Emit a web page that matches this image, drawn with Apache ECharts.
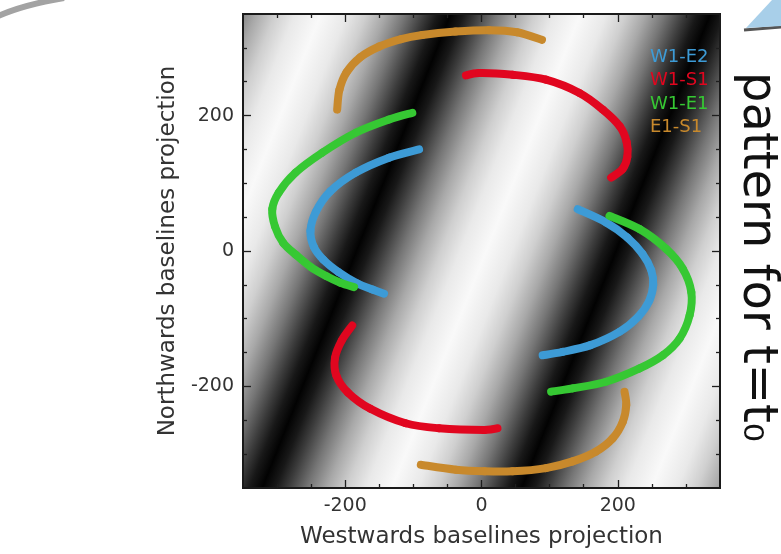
<!DOCTYPE html>
<html>
<head>
<meta charset="utf-8">
<script src="https://cdn.jsdelivr.net/npm/echarts@6/dist/echarts.min.js"></script>
<style>
  html, body { margin: 0; padding: 0; background: #ffffff; }
  #chart { width: 781px; height: 554px; }
</style>
</head>
<body>
<div id="chart"></div>
<script>
// Baselines shown in the legend
const baselines = ['W1-E2', 'W1-S1', 'W1-E1', 'E1-S1'];

// Projected baseline tracks [westwards, northwards]; each baseline traces two opposite arcs
const w1e2North = [[-91.6, 150], [-135.7, 137.8], [-184.7, 115.7], [-222, 88], [-243, 58], [-251, 30], [-246, 6], [-232, -13], [-210, -31], [-182, -48], [-160, -57], [-143, -63]];
const w1e2South = [[141.2, 61.8], [182.9, 42.2], [214, 20], [236, -4], [249, -28], [252, -50], [246, -74], [230, -97], [203, -119], [160, -139], [119, -149], [89.7, -154]];

const w1s1North = [[-22.9, 259.3], [-3.4, 262.8], [45.6, 260.3], [94.7, 253], [143.7, 233.4], [178, 208.8], [203, 184], [213, 161], [214, 139], [207, 121], [190.3, 108.4]];
const w1s1South = [[-189.7, -109.9], [-205, -132], [-215, -158], [-213, -184], [-196, -209], [-163, -233], [-111.2, -254.4], [-62.2, -261.8], [4, -264.3], [23.5, -261.8]];

const w1e1North = [[-101.5, 204], [-135.7, 194.1], [-184.7, 174.6], [-233.8, 145.1], [-272.9, 115.7], [-297.5, 86.3], [-307, 62], [-303, 36], [-291, 12], [-272, -6], [-250, -24], [-228, -37], [-207, -47], [-187, -53.4]];
const w1e1South = [[187.8, 51.9], [231.9, 32.4], [271.2, 2.9], [295.6, -26.5], [307.9, -60.7], [305.4, -95.1], [290.7, -129.4], [266.2, -154], [231.9, -173.5], [182.9, -193.1], [133.8, -202.9], [102.1, -207.8]];

const e1s1North = [[-211.8, 208.8], [-208.5, 238], [-198, 264], [-178, 286], [-150, 302], [-118, 313], [-87, 319], [-38, 324], [11, 326], [52, 323], [88.8, 311.8]];
const e1s1South = [[-89.1, -315.7], [-37.6, -323], [4, -325.4], [45.6, -325.4], [94.7, -320.6], [133.8, -310.7], [168.2, -296], [192.6, -276.5], [207.4, -252], [212.4, -227.5], [209.9, -207.8]];

// Axis ticks
const axisExtent = 350;
const labelTicks = [-200, 0, 200];
const minorTicks = [-300, -250, -150, -100, -50, 50, 100, 150, 250, 300];

// Fringe pattern behind the tracks: stripe period, tilt of the stripes, position of a dark fringe
const fringe = { period: 380, tilt: 0.40, darkAt: -184 };
// Grey level going from the centre of a dark fringe (0) to the centre of a bright one (1)
const grayRamp = [[0, 2], [0.1, 24], [0.2, 60], [0.35, 118], [0.5, 168], [0.65, 207], [0.8, 233], [1, 249]];

const lineColors = { 'W1-E2': '#3d9bd6', 'W1-S1': '#e1061f', 'W1-E1': '#36c833', 'E1-S1': '#c8892c' };
const tracks = [
  { name: 'W1-E2', arcs: [w1e2North, w1e2South] },
  { name: 'W1-S1', arcs: [w1s1North, w1s1South] },
  { name: 'W1-E1', arcs: [w1e1North, w1e1South] },
  { name: 'E1-S1', arcs: [e1s1North, e1s1South] }
];

// Linear gradient across the plot square that renders the tilted fringes
function fringeGradient(ext) {
  const t = fringe.tilt, n2 = 1 + t * t;
  const lo = -ext * (1 + t), hi = ext * (1 + t);
  const half = fringe.period / 2;
  const sStart = fringe.darkAt + Math.floor((lo - fringe.darkAt) / fringe.period) * fringe.period;
  const sEnd = fringe.darkAt + Math.ceil((hi - fringe.darkAt) / fringe.period) * fringe.period;
  const span = sEnd - sStart;
  const stops = [];
  const nSeg = Math.round(span / half);
  for (let k = 0; k < nSeg; k++) {
    const s0 = sStart + k * half;
    const fromDark = k % 2 === 0;
    const ramp = fromDark ? grayRamp : grayRamp.slice().reverse().map(([f, g]) => [1 - f, g]);
    ramp.forEach(([f, g], i) => {
      if (i === ramp.length - 1 && k < nSeg - 1) return;
      stops.push({ offset: (s0 + f * half - sStart) / span, color: `rgb(${g},${g},${g})` });
    });
  }
  // gradient axis runs along the fringe normal through the top-left corner
  const cx = -ext, cy = ext;
  const t0 = (sStart - lo) / n2, t1 = (sEnd - lo) / n2;
  const p0 = [cx + t0, cy - t * t0], p1 = [cx + t1, cy - t * t1];
  const rel = p => [(p[0] + ext) / (2 * ext), (ext - p[1]) / (2 * ext)];
  const a = rel(p0), b = rel(p1);
  return { type: 'linear', x: a[0], y: a[1], x2: b[0], y2: b[1], colorStops: stops, global: false };
}

// Smooth track through the projected points (Catmull-Rom turned into cubic Bezier pieces)
function renderTrack(arc, color) {
  return function (params, api) {
    if (params.dataIndex !== 0) return null;
    const pts = arc.map(p => api.coord(p));
    const n = pts.length;
    const children = [];
    for (let i = 0; i < n - 1; i++) {
      const p0 = pts[Math.max(i - 1, 0)], p1 = pts[i], p2 = pts[i + 1], p3 = pts[Math.min(i + 2, n - 1)];
      children.push({
        type: 'bezierCurve',
        shape: {
          x1: p1[0], y1: p1[1], x2: p2[0], y2: p2[1],
          cpx1: p1[0] + (p2[0] - p0[0]) / 6, cpy1: p1[1] + (p2[1] - p0[1]) / 6,
          cpx2: p2[0] - (p3[0] - p1[0]) / 6, cpy2: p2[1] - (p3[1] - p1[1]) / 6
        },
        style: { stroke: color, lineWidth: 8, fill: null, lineCap: 'round', lineJoin: 'round' }
      });
    }
    return { type: 'group', children: children };
  };
}

const font = 'DejaVu Sans';
const tickColor = '#1e1e1e';

function valueAxis(position, ticks, len, withLabels, extra) {
  const ax = {
    type: 'value', gridIndex: 0, position: position,
    min: -axisExtent, max: axisExtent,
    axisLine: { show: false, onZero: false },
    splitLine: { show: false },
    axisTick: { show: true, inside: true, length: len, customValues: ticks, lineStyle: { color: tickColor, width: 1.3 } },
    axisLabel: withLabels
      ? { show: true, customValues: labelTicks, color: '#333', fontSize: 19, fontFamily: font, margin: 9 }
      : { show: false },
    silent: true
  };
  return Object.assign(ax, extra || {});
}

const chart = echarts.init(document.getElementById('chart'), null, { renderer: 'canvas' });

chart.setOption({
  animation: false,
  backgroundColor: '#ffffff',
  grid: {
    left: 243, top: 14, width: 477, height: 476,
    show: true,
    borderColor: '#1a1a1a', borderWidth: 2,
    backgroundColor: fringeGradient(axisExtent)
  },
  xAxis: [
    valueAxis('bottom', minorTicks, 4, true, {
      name: 'Westwards baselines projection', nameLocation: 'middle', nameGap: 38,
      nameTextStyle: { fontSize: 23, color: '#333', fontFamily: font }
    }),
    valueAxis('bottom', labelTicks, 8, false),
    valueAxis('top', minorTicks, 4, false),
    valueAxis('top', labelTicks, 8, false)
  ],
  yAxis: [
    valueAxis('left', minorTicks, 4, true, {
      name: 'Northwards baselines projection', nameLocation: 'middle', nameGap: 59,
      nameTextStyle: { fontSize: 23, color: '#333', fontFamily: font }
    }),
    valueAxis('left', labelTicks, 8, false),
    valueAxis('right', minorTicks, 4, false),
    valueAxis('right', labelTicks, 8, false)
  ],
  legend: {
    orient: 'vertical', left: 640, top: 43,
    icon: 'none', itemWidth: 0, itemHeight: 18, itemGap: 5.5,
    selectedMode: false,
    textStyle: { fontSize: 18, fontFamily: font, lineHeight: 18 },
    data: baselines.map(n => ({ name: n, textStyle: { color: lineColors[n] } }))
  },
  series: tracks.flatMap(tr => tr.arcs.map(arc => ({
    type: 'custom', name: tr.name, xAxisIndex: 0, yAxisIndex: 0,
    data: arc, encode: { x: 0, y: 1 }, silent: true,
    itemStyle: { color: lineColors[tr.name] },
    renderItem: renderTrack(arc, lineColors[tr.name]),
    z: 3
  }))),
  graphic: [
    // handwritten caption at the right
    {
      type: 'text', x: 756, y: 257, rotation: -Math.PI / 2,
      style: { text: 'pattern for t=t₀', fontSize: 48, fontFamily: font, fill: '#111', align: 'center', verticalAlign: 'middle' }
    },
    // slide decorations at the top corners
    {
      type: 'bezierCurve',
      shape: { x1: -4, y1: 17, cpx1: 22, cpy1: 5, x2: 64, y2: -2 },
      style: { stroke: '#a3a3a3', lineWidth: 6, fill: null }
    },
    {
      type: 'polyline',
      shape: { points: [[744, 30], [781, 27]] },
      style: { stroke: '#555', lineWidth: 3 }
    },
    {
      type: 'polygon',
      shape: { points: [[746, 28], [772, 0], [781, 0], [781, 26]] },
      style: { fill: '#a8cfe9' }
    }
  ]
});
</script>
</body>
</html>
